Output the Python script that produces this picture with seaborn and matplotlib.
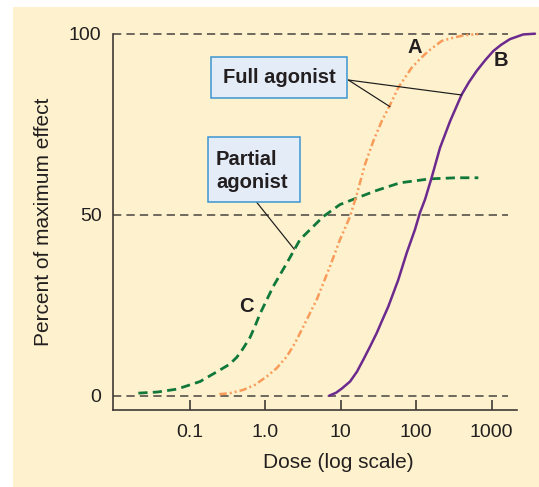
import numpy as np
import pandas as pd
import matplotlib
matplotlib.use("Agg")
import matplotlib.pyplot as plt
from matplotlib.patches import Rectangle
from matplotlib.lines import Line2D
import seaborn as sns

# ---- data (dose on log axis, % of maximum effect) ----
dose_A = [0.247, 0.342, 0.513, 0.733, 1.05, 1.42, 1.93, 2.48, 3.20, 4.81, 7.21,
          9.79, 13.3, 16.3, 21.0, 27.0, 34.9, 45.0, 57.9, 87.1, 112, 145, 218,
          324, 443, 665]
effect_A = [0.4, 0.7, 1.6, 3.0, 5.3, 7.6, 10.8, 14.5, 19.1, 26.5, 35.7,
            43.1, 49.5, 55.5, 63.9, 70.3, 75.8, 80.3, 85.1, 90.6, 93.0, 95.2, 98.0,
            99.0, 99.6, 99.9]

dose_B = [7.06, 8.67, 10.4, 13.3, 16.4, 19.9, 24.4, 30.0, 35.8, 42.7, 57.9,
          74.8, 96.4, 112, 131, 160, 207, 281, 401, 500, 632, 815, 1050, 1327,
          1746, 2624, 3750]
effect_B = [0.0, 0.8, 2.0, 3.9, 6.6, 9.9, 13.5, 17.3, 21.0, 24.6, 32.0,
            39.4, 45.9, 50.5, 54.2, 60.2, 68.5, 75.8, 83.2, 86.6, 89.7, 92.6, 95.2, 96.9,
            98.5, 99.8, 100.0]

dose_C = [0.0209, 0.0372, 0.0676, 0.137, 0.252, 0.339, 0.420, 0.501, 0.630, 0.733,
          0.853, 1.28, 1.93, 2.89, 3.37, 5.89, 9.79, 16.3, 30.0, 61.0, 152, 344, 665]
effect_C = [0.7, 1.0, 1.8, 3.9, 7.1, 8.7, 10.6, 12.8, 16.1, 19.2,
            22.6, 30.2, 36.6, 43.1, 44.5, 49.5, 52.8, 54.6, 56.7, 58.8, 59.9, 60.2, 60.2]

x_ticks = [0.1, 1, 10, 100, 1000]
x_tick_labels = ["0.1", "1.0", "10", "100", "1000"]
y_ticks = [0, 50, 100]
y_tick_labels = ["0", "50", "100"]

# ---- styling ----
sns.set_theme(style="ticks")
plt.rcParams["font.family"] = ["Liberation Sans", "DejaVu Sans"]

W, H = 539, 487
BEIGE = "#FDF2CD"
GREEN = "#10783A"
ORANGE = "#F89B5B"
PURPLE = "#6C2A8E"
GRID = "#4F4A45"
SPINE = "#3F3A36"
TEXT = "#231F20"
BOX_FACE = "#E4ECF7"
BOX_EDGE = "#3C96D2"

def fx(x):
    return x / W

def fy(y):
    return 1 - y / H

AX_L, AX_R, AX_T, AX_B = 112.7, 535.0, 33.7, 410.0

fig = plt.figure(figsize=(W / 100, H / 100), dpi=100, facecolor="white")
fig.patches.append(Rectangle((fx(12.7), 0), 1 - fx(12.7), fy(6.7), transform=fig.transFigure,
                             facecolor=BEIGE, edgecolor="none", zorder=-10))

ax = fig.add_axes([fx(AX_L), 1 - AX_B / H, (AX_R - AX_L) / W, (AX_B - AX_T) / H])
ax.set_facecolor("none")
ax.set_xscale("log")
ax.set_xlim(10 ** -2.02, 10 ** 3.574)
ax.set_ylim(-3.96, 100)

# dashed reference lines
ax.hlines(y_ticks, 10 ** -2.02, 10 ** 3.216, colors=GRID, linewidth=1.15,
          linestyles=[(0, (5.2, 3.2))], zorder=1, clip_on=False)

dfA = pd.DataFrame({"dose": dose_A, "effect": effect_A})
dfB = pd.DataFrame({"dose": dose_B, "effect": effect_B})
dfC = pd.DataFrame({"dose": dose_C, "effect": effect_C})

sns.lineplot(data=dfC, x="dose", y="effect", ax=ax, color=GREEN, linewidth=2.0,
             linestyle=(0, (3.3, 1.9)), clip_on=False, zorder=3, estimator=None)
sns.lineplot(data=dfA, x="dose", y="effect", ax=ax, color=ORANGE, linewidth=1.8,
             linestyle=(0, (3.0, 1.2, 0.8, 1.2, 0.8, 1.2)), clip_on=False, zorder=3,
             estimator=None)
sns.lineplot(data=dfB, x="dose", y="effect", ax=ax, color=PURPLE, linewidth=1.8,
             clip_on=False, zorder=3, estimator=None)

# axes styling
for s in ["top", "right"]:
    ax.spines[s].set_visible(False)
for s in ["left", "bottom"]:
    ax.spines[s].set_color(SPINE)
    ax.spines[s].set_linewidth(1.2)
ax.spines["bottom"].set_bounds(10 ** -2.02, 10 ** 3.34)

ax.set_xticks(x_ticks)
ax.set_xticklabels(x_tick_labels)
ax.xaxis.set_minor_locator(matplotlib.ticker.NullLocator())
ax.tick_params(axis="x", direction="in", length=7.5, width=1.2, color=SPINE,
               pad=10, labelsize=14, labelcolor=TEXT)
ax.set_yticks(y_ticks)
ax.set_yticklabels(y_tick_labels)
ax.tick_params(axis="y", length=0, pad=8, labelsize=14, labelcolor=TEXT)

ax.set_xlabel("Dose (log scale)", fontsize=15, color=TEXT)
ax.xaxis.set_label_coords((338.3 - AX_L) / (AX_R - AX_L), (AX_B - 453) / (AX_B - AX_T))
ax.set_ylabel("Percent of maximum effect", fontsize=15, color=TEXT)
ax.yaxis.set_label_coords((53.5 - AX_L) / (AX_R - AX_L), (AX_B - 221.7) / (AX_B - AX_T))

# ---- annotation boxes and leader lines ----
fig.patches.append(Rectangle((fx(210.7), fy(97.7)), (347.3 - 210.7) / W, (97.7 - 56.7) / H,
                             transform=fig.transFigure, facecolor=BOX_FACE,
                             edgecolor=BOX_EDGE, linewidth=1.1, zorder=5))
fig.patches.append(Rectangle((fx(208.3), fy(202.3)), (300 - 208.3) / W, (202.3 - 137.3) / H,
                             transform=fig.transFigure, facecolor=BOX_FACE,
                             edgecolor=BOX_EDGE, linewidth=1.1, zorder=5))

fig.text(fx(279), fy(83.3), "Full agonist", ha="center", va="baseline",
         fontsize=14.5, fontweight="bold", color=TEXT, zorder=6)
fig.text(fx(216), fy(165), "Partial", ha="left", va="baseline",
         fontsize=14.5, fontweight="bold", color=TEXT, zorder=6)
fig.text(fx(216), fy(187.5), "agonist", ha="left", va="baseline",
         fontsize=14.5, fontweight="bold", color=TEXT, zorder=6)

for (x0, y0, x1, y1) in [(348.3, 80, 390, 106.7), (348.3, 80, 461.7, 95),
                         (256.7, 202.3, 294.3, 249.3)]:
    fig.lines.append(Line2D([fx(x0), fx(x1)], [fy(y0), fy(y1)], transform=fig.transFigure,
                            color="#1A1A1A", linewidth=0.85, zorder=4))

for (lbl, x, y) in [("A", 415, 47.5), ("B", 500.7, 61), ("C", 246.7, 306)]:
    fig.text(fx(x), fy(y), lbl, ha="center", va="center", fontsize=14.5,
             fontweight="bold", color=TEXT)

fig.savefig("out.png", dpi=100, facecolor="white")
